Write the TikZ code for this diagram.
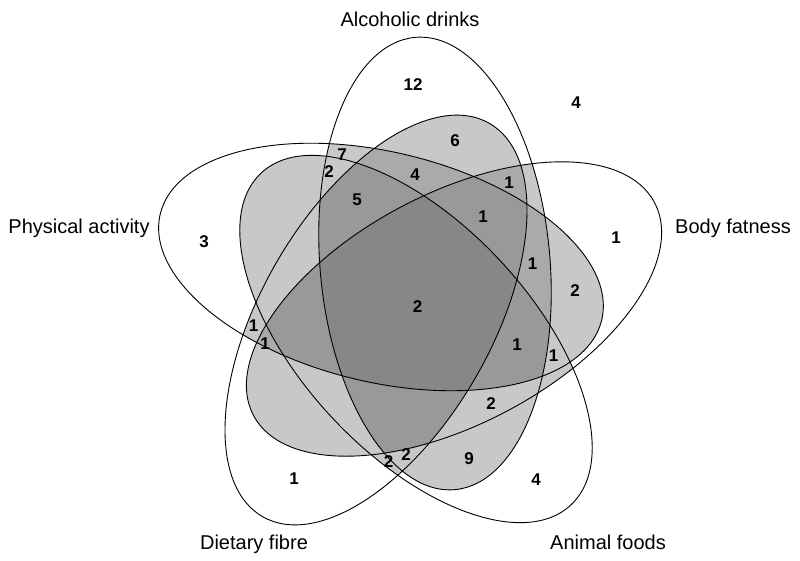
\documentclass[tikz,border=0pt]{standalone}
\usepackage{fontspec}
\setmainfont{Liberation Sans}
\definecolor{gA}{HTML}{C8C8C8}
\definecolor{gB}{HTML}{AAAAAA}
\definecolor{gC}{HTML}{999999}
\definecolor{gD}{HTML}{878787}
\newcommand\Eang[1]{\ifcase#1\or95\or-13.5\or28\or60\or-47\fi}
\newcommand\Eclip[1]{\clip[rotate around={\Eang{#1}:(c#1)}] (c#1) ellipse [x radius=227, y radius=115];}
\newcommand\Efill[2]{\fill[#2,rotate around={\Eang{#1}:(c#1)}] (c#1) ellipse [x radius=227, y radius=115];}
\newcommand\Edraw[1]{\draw[outl,rotate around={\Eang{#1}:(c#1)}] (c#1) ellipse [x radius=227, y radius=115];}
\begin{document}
\begin{tikzpicture}[x=1pt,y=1pt,
  outl/.style={draw=black,line width=0.9pt},
  lab/.style={font=\fontsize{20}{24}\selectfont,anchor=base,inner sep=0pt},
  num/.style={font=\fontsize{17}{20}\selectfont\bfseries,inner sep=0pt}]
\useasboundingbox (0,0) rectangle (800,-560);
\fill[white] (0,0) rectangle (800,-560);
% ellipse centres: 1 Alcoholic, 2 Physical, 3 Body, 4 Dietary, 5 Animal
\coordinate (c1) at (435,-263.5);
\coordinate (c2) at (381,-267);
\coordinate (c3) at (454,-309);
\coordinate (c4) at (376,-320);
\coordinate (c5) at (416,-339);
% shading of the overlaps
\foreach \i/\j in {1/2,1/3,1/4,1/5,2/3,2/4,2/5,3/4,3/5,4/5}{%
  \begin{scope}\Eclip{\i}\Efill{\j}{gA}\end{scope}}
\foreach \i/\j/\k in {1/2/3,1/2/4,1/3/4,2/3/4}{%
  \begin{scope}\Eclip{\i}\Eclip{\j}\Efill{\k}{gB}\end{scope}}
\foreach \i/\j/\k/\l in {1/2/3/5,1/2/4/5,1/3/4/5,2/3/4/5,1/2/3/4}{%
  \begin{scope}\Eclip{\i}\Eclip{\j}\Eclip{\k}\Efill{\l}{gC}\end{scope}}
\begin{scope}\Eclip{1}\Eclip{2}\Eclip{3}\Eclip{4}\Efill{5}{gD}\end{scope}
% outlines
\foreach \i in {1,...,5}{\Edraw{\i}}
% set labels
\node[lab] (lA) at (410,-26) {Alcoholic drinks};
\node[lab] (lP) at (79,-233) {Physical activity};
\node[lab] (lB) at (733,-233) {Body fatness};
\node[lab] (lD) at (254,-549) {Dietary fibre};
\node[lab] (lF) at (608,-549) {Animal foods};
% counts
\node[num] (n1) at (413,-84.5) {12};
\node[num] (n2) at (576,-103) {4};
\node[num] (n3) at (455,-141) {6};
\node[num] (n4) at (342,-155) {7};
\node[num] (n5) at (329,-171.5) {2};
\node[num] (n6) at (415,-175) {4};
\node[num] (n7) at (509,-182.5) {1};
\node[num] (n8) at (357,-200) {5};
\node[num] (n9) at (483,-217) {1};
\node[num] (n10) at (204,-241.5) {3};
\node[num] (n11) at (616,-238) {1};
\node[num] (n12) at (532.5,-263.5) {1};
\node[num] (n13) at (575,-291) {2};
\node[num] (n14) at (417.5,-306.5) {2};
\node[num] (n15) at (253.5,-326) {1};
\node[num] (n16) at (265,-343.5) {1};
\node[num] (n17) at (517,-344.5) {1};
\node[num] (n18) at (553.5,-356) {1};
\node[num] (n19) at (491,-403.5) {2};
\node[num] (n20) at (406,-455) {2};
\node[num] (n21) at (388.5,-461.5) {2};
\node[num] (n22) at (469,-459) {9};
\node[num] (n23) at (294,-479) {1};
\node[num] (n24) at (536,-479.5) {4};
\end{tikzpicture}
\end{document}
